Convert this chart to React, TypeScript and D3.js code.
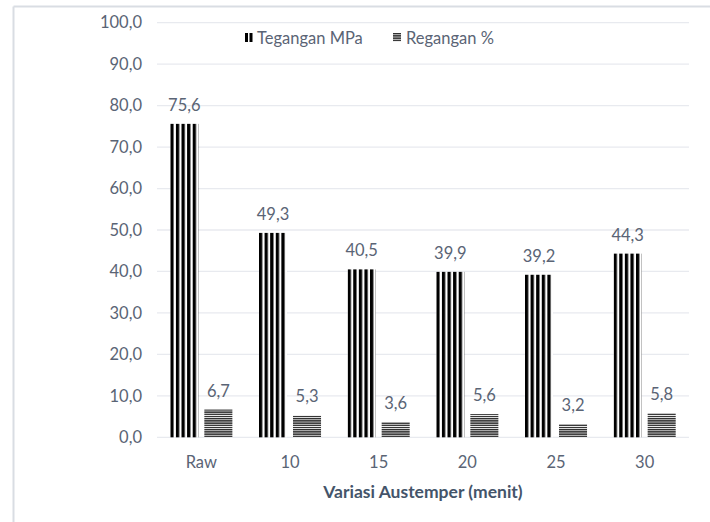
import React from "react";
import * as d3 from "d3";

const categories = ["Raw", "10", "15", "20", "25", "30"];
const tegangan = [75.6, 49.3, 40.5, 39.9, 39.2, 44.3];
const regangan = [6.7, 5.3, 3.6, 5.6, 3.2, 5.8];
const seriesNames = ["Tegangan MPa", "Regangan %"];
const yTicks = [0, 10, 20, 30, 40, 50, 60, 70, 80, 90, 100];
const xTitle = "Variasi Austemper (menit)";

const W = 710;
const H = 522;
const FONT = "Lato, 'Open Sans', sans-serif";
const TXT = "#5a6475";
const FS = 16.5;

export default function App() {
  const x0 = d3
    .scaleBand<string>()
    .domain(categories)
    .range([157, 689])
    .paddingInner(0.3)
    .paddingOuter(0.15);
  const x1 = d3
    .scaleBand<string>()
    .domain(seriesNames)
    .range([0, x0.bandwidth()])
    .paddingInner(0.176);
  const y = d3.scaleLinear().domain([0, 100]).range([437.3, 22.7]);
  const fmt = (v: number) => v.toFixed(1).replace(".", ",");
  const data = [tegangan, regangan];
  const fills = ["url(#vstripe)", "url(#hstripe)"];

  return (
    <svg
      width={W}
      height={H}
      style={{ position: "absolute", left: 0, top: 0, background: "#fff" }}
      fontFamily={FONT}
    >
      <defs>
        <pattern id="vstripe" patternUnits="userSpaceOnUse" width={5.6} height={10}>
          <rect x={0} y={0} width={5.6} height={10} fill="#fff" />
          <rect x={0} y={0} width={3.3} height={10} fill="#000" />
        </pattern>
        <pattern id="hstripe" patternUnits="userSpaceOnUse" width={10} height={2.2}>
          <rect x={0} y={0} width={10} height={2.2} fill="#fff" />
          <rect x={0} y={0} width={10} height={1.4} fill="#2e2e2e" />
        </pattern>
      </defs>
      <line x1={13.5} x2={W} y1={6.5} y2={6.5} stroke="#d9dde3" strokeWidth={2} />
      <line x1={13.5} x2={13.5} y1={6.5} y2={H} stroke="#d9dde3" strokeWidth={2} />

      {yTicks.map((t) => (
        <g key={t}>
          <line x1={157} x2={689} y1={y(t)} y2={y(t)} stroke="#e8eaef" strokeWidth={1.3} />
          <text x={142} y={y(t)} dy="0.35em" textAnchor="end" fontSize={FS} fill={TXT}>
            {fmt(t)}
          </text>
        </g>
      ))}

      {categories.map((c, i) => (
        <g key={c} transform={`translate(${x0(c)},0)`}>
          {seriesNames.map((s, j) => {
            const v = data[j][i];
            const bx = x1(s)!;
            return (
              <g key={s}>
                <rect
                  x={bx}
                  y={y(v)}
                  width={x1.bandwidth()}
                  height={y(0) - y(v)}
                  fill={fills[j]}
                />
                <text
                  x={bx + x1.bandwidth() / 2}
                  y={y(v) - 13}
                  textAnchor="middle"
                  fontSize={FS}
                  fill={TXT}
                >
                  {fmt(v)}
                </text>
              </g>
            );
          })}
          <text
            x={x0.bandwidth() / 2}
            y={462}
            dy="0.35em"
            textAnchor="middle"
            fontSize={FS}
            fill={TXT}
          >
            {c}
          </text>
        </g>
      ))}

      <text
        x={(157 + 689) / 2}
        y={492}
        dy="0.35em"
        textAnchor="middle"
        fontSize={17.5}
        fontWeight="bold"
        fill="#44546a"
      >
        {xTitle}
      </text>

      <g>
        <rect x={245} y={33} width={3} height={9} fill="#000" />
        <rect x={249.5} y={33} width={3} height={9} fill="#000" />
        <text x={257} y={38} dy="0.35em" fontSize={FS} fill={TXT}>
          {seriesNames[0]}
        </text>
        <rect x={393} y={33} width={8} height={9} fill="url(#hstripe)" />
        <text x={406} y={38} dy="0.35em" fontSize={FS} fill={TXT}>
          {seriesNames[1]}
        </text>
      </g>
    </svg>
  );
}
